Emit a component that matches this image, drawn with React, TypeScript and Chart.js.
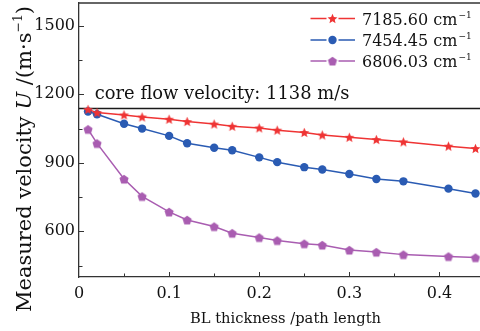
import React, { useEffect, useRef } from "react";
import { Chart, registerables } from "chart.js";

Chart.register(...registerables);

// ---- data ----
const thickness = [0.01, 0.02, 0.05, 0.07, 0.1, 0.12, 0.15, 0.17, 0.2, 0.22, 0.25, 0.27, 0.3, 0.33, 0.36, 0.41, 0.44];
const velocity7185 = [1134, 1120, 1110, 1101, 1091, 1081, 1070, 1060, 1053, 1043, 1033, 1022, 1012, 1002, 992, 973, 963];
const velocity7454 = [1125, 1113, 1071, 1050, 1018, 986, 966, 955, 924, 903, 881, 871, 851, 829, 819, 787, 766];
const velocity6806 = [1047, 985, 829, 753, 685, 650, 621, 592, 573, 560, 546, 540, 518, 509, 498, 490, 485];
const seriesLabels = ["7185.60", "7454.45", "6806.03"];
const unitText = " cm";
const unitSup = "\u22121";
const xTicks = [0, 0.1, 0.2, 0.3, 0.4];
const xMinorTicks = [0.05, 0.15, 0.25, 0.35];
const yTicks = [600, 900, 1200, 1500];
const yMinorTicks = [450, 750, 1050, 1350];
const coreVelocity = 1138;
const coreLabel = "core flow velocity: 1138 m/s";
const xTitle = "BL thickness /path length";

const RED = "#ef3434";
const BLUE = "#2a5bb3";
const PURPLE = "#a95db1";
const FONT = '"DejaVu Serif", serif';

function makeStar(color: string, R: number) {
  const c = document.createElement("canvas");
  const s = Math.ceil(R * 2 + 2);
  c.width = s; c.height = s;
  const g = c.getContext("2d")!;
  g.fillStyle = color;
  g.beginPath();
  const r = R * 0.45;
  for (let i = 0; i < 10; i++) {
    const a = -Math.PI / 2 + (i * Math.PI) / 5;
    const rr = i % 2 === 0 ? R : r;
    const px = s / 2 + rr * Math.cos(a);
    const py = s / 2 + 0.5 + rr * Math.sin(a);
    if (i === 0) g.moveTo(px, py); else g.lineTo(px, py);
  }
  g.closePath();
  g.fill();
  return c;
}

function makePentagon(color: string, R: number) {
  const c = document.createElement("canvas");
  const s = Math.ceil(R * 2 + 2);
  c.width = s; c.height = s;
  const g = c.getContext("2d")!;
  g.fillStyle = color;
  g.beginPath();
  for (let i = 0; i < 5; i++) {
    const a = -Math.PI / 2 + (i * 2 * Math.PI) / 5;
    const px = s / 2 + R * Math.cos(a);
    const py = s / 2 + 0.5 + R * Math.sin(a);
    if (i === 0) g.moveTo(px, py); else g.lineTo(px, py);
  }
  g.closePath();
  g.fill();
  return c;
}

export default function App() {
  const ref = useRef<HTMLCanvasElement | null>(null);

  useEffect(() => {
    const canvas = ref.current;
    if (!canvas) return;
    const star = makeStar(RED, 5.2);
    const pent = makePentagon(PURPLE, 4.8);

    const deco = {
      id: "deco",
      beforeDatasetsDraw(chart: any) {
        const { ctx, chartArea, scales } = chart;
        const x = scales.x, y = scales.y;
        ctx.save();
        ctx.strokeStyle = "#333";
        ctx.lineWidth = 1.3;
        ctx.beginPath();
        ctx.moveTo(chartArea.left, chartArea.top);
        ctx.lineTo(chartArea.right, chartArea.top);
        ctx.stroke();
        // inner ticks
        ctx.lineWidth = 1;
        ctx.beginPath();
        const tickY = (v: number, len: number) => {
          const p = Math.round(y.getPixelForValue(v)) + 0.5;
          ctx.moveTo(chartArea.left, p);
          ctx.lineTo(chartArea.left + len, p);
        };
        const tickX = (v: number, len: number) => {
          const p = Math.round(x.getPixelForValue(v)) + 0.5;
          ctx.moveTo(p, chartArea.bottom);
          ctx.lineTo(p, chartArea.bottom - len);
        };
        yTicks.forEach((v) => tickY(v, 5));
        yMinorTicks.forEach((v) => tickY(v, 3.5));
        xTicks.forEach((v) => v > 0 && tickX(v, 5));
        xMinorTicks.forEach((v) => tickX(v, 3.5));
        ctx.stroke();
        // core flow line
        const yc = y.getPixelForValue(coreVelocity);
        ctx.strokeStyle = "#1a1a1a";
        ctx.lineWidth = 1.5;
        ctx.beginPath();
        ctx.moveTo(chartArea.left, yc);
        ctx.lineTo(chartArea.right, yc);
        ctx.stroke();
        ctx.fillStyle = "#111";
        ctx.font = "17.9px " + FONT;
        ctx.textBaseline = "alphabetic";
        ctx.textAlign = "left";
        ctx.fillText(coreLabel, x.getPixelForValue(0.0175), y.getPixelForValue(1178));
        ctx.restore();
      },
      afterDraw(chart: any) {
        const { ctx } = chart;
        ctx.save();
        // legend
        const colors = [RED, BLUE, PURPLE];
        const rows = [18.5, 40, 61];
        rows.forEach((ry, i) => {
          ctx.strokeStyle = colors[i];
          ctx.lineWidth = 1.5;
          ctx.beginPath();
          ctx.moveTo(310.5, ry); ctx.lineTo(326.5, ry);
          ctx.moveTo(338.5, ry); ctx.lineTo(355, ry);
          ctx.stroke();
          if (i === 0) ctx.drawImage(star, 332.5 - star.width / 2, ry - star.height / 2);
          else if (i === 1) {
            ctx.fillStyle = BLUE;
            ctx.beginPath(); ctx.arc(332.5, ry, 4.2, 0, Math.PI * 2); ctx.fill();
          } else ctx.drawImage(pent, 332.5 - pent.width / 2, ry - pent.height / 2);
          ctx.fillStyle = "#111";
          ctx.font = "16px " + FONT;
          ctx.textBaseline = "alphabetic";
          ctx.textAlign = "left";
          const base = ry + 6;
          const t = seriesLabels[i] + unitText;
          ctx.fillText(t, 362, base);
          const w = ctx.measureText(t).width;
          ctx.font = "9px " + FONT;
          ctx.fillText(unitSup, 362 + w + 1, base - 7);
        });
        // x title
        ctx.font = "14.7px " + FONT;
        ctx.textAlign = "center";
        ctx.fillText(xTitle, 285.5, 322.5);
        // y title (rotated)
        ctx.translate(30.5, 159);
        ctx.rotate(-Math.PI / 2);
        ctx.textAlign = "left";
        const main = "21px " + FONT;
        const ital = "italic 21px " + FONT;
        const sup = "12.5px " + FONT;
        const parts: [string, string, number][] = [
          ["Measured velocity ", main, 0],
          ["U", ital, 0],
          [" /(m\u00b7s", main, 0],
          ["\u22121", sup, -8.5],
          [")", main, 0],
        ];
        let total = 0;
        parts.forEach(([s, f]) => { ctx.font = f; total += ctx.measureText(s).width; });
        let u = -total / 2;
        parts.forEach(([s, f, dv]) => {
          ctx.font = f;
          ctx.fillText(s, u, dv);
          u += ctx.measureText(s).width;
        });
        ctx.restore();
      },
    };

    const chart = new Chart(canvas, {
      type: "line",
      data: {
        datasets: [
          {
            label: seriesLabels[0],
            data: thickness.map((t, i) => ({ x: t, y: velocity7185[i] })),
            borderColor: RED,
            backgroundColor: RED,
            borderWidth: 1.5,
            pointStyle: star as any,
            pointRadius: 5,
          },
          {
            label: seriesLabels[1],
            data: thickness.map((t, i) => ({ x: t, y: velocity7454[i] })),
            borderColor: BLUE,
            backgroundColor: BLUE,
            borderWidth: 1.5,
            pointStyle: "circle",
            pointRadius: 4.2,
            pointBorderWidth: 0,
          },
          {
            label: seriesLabels[2],
            data: thickness.map((t, i) => ({ x: t, y: velocity6806[i] })),
            borderColor: PURPLE,
            backgroundColor: PURPLE,
            borderWidth: 1.5,
            pointStyle: pent as any,
            pointRadius: 5,
          },
        ],
      },
      options: {
        animation: false,
        responsive: false,
        devicePixelRatio: 1,
        layout: { autoPadding: false, padding: { top: 3, right: 0, left: 0, bottom: 0 } },
        plugins: { legend: { display: false }, tooltip: { enabled: false } },
        elements: { line: { tension: 0 } },
        scales: {
          x: {
            type: "linear",
            min: 0,
            max: 0.445,
            afterBuildTicks: (s: any) => { s.ticks = xTicks.map((value) => ({ value })); },
            afterFit: (s: any) => { s.height = 54; s.paddingLeft = 0; s.paddingRight = 0; },
            ticks: {
              font: { family: FONT, size: 16 },
              color: "#111",
              padding: 7,
              maxRotation: 0,
              autoSkip: false,
              callback: (v: any) => (Number(v) === 0 ? "0" : Number(v).toFixed(1)),
            },
            grid: { display: false, drawTicks: false },
            border: { display: true, color: "#333", width: 1.3 },
          },
          y: {
            type: "linear",
            min: 400,
            max: 1600,
            afterBuildTicks: (s: any) => { s.ticks = yTicks.map((value) => ({ value })); },
            afterFit: (s: any) => { s.width = 79; s.paddingTop = 0; s.paddingBottom = 0; },
            ticks: {
              font: { family: FONT, size: 16 },
              color: "#111",
              padding: 4,
              autoSkip: false,
              callback: (v: any) => String(v),
            },
            grid: { display: false, drawTicks: false },
            border: { display: true, color: "#333", width: 1.3 },
          },
        },
      },
      plugins: [deco],
    });
    return () => chart.destroy();
  }, []);

  return (
    <div style={{ position: "fixed", left: 0, top: 0, width: 480, height: 331, background: "#fff" }}>
      <canvas ref={ref} width={480} height={331} style={{ display: "block", width: 480, height: 331 }} />
    </div>
  );
}
